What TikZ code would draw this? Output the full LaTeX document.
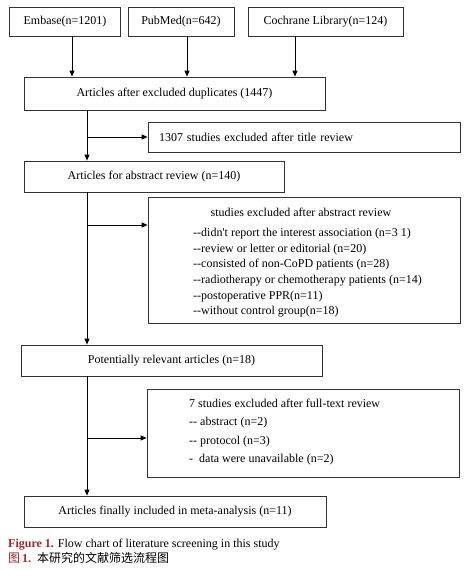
\documentclass[tikz,border=0pt]{standalone}
\usepackage{fontspec}
\setmainfont{Liberation Serif}
\newfontfamily\cjk{Noto Sans CJK SC}
\usetikzlibrary{arrows.meta}
\definecolor{capred}{RGB}{150,40,40}
\definecolor{boxline}{RGB}{50,50,50}
\newcommand\dd{-{}-}
\begin{document}
\begin{tikzpicture}[x=1pt,y=-1pt,
  box/.style={draw=boxline,line width=0.8pt,rectangle,inner sep=0pt,
    font=\fontsize{12}{14}\selectfont},
  txt/.style={anchor=base west,inner sep=0pt,font=\fontsize{12}{14}\selectfont},
  arr/.style={draw=black,line width=0.8pt,-{Triangle[length=6pt,width=5pt]}},
  ln/.style={draw=black,line width=0.8pt}]
\useasboundingbox (0,0) rectangle (468,570);
% source boxes
\node[box,minimum width=111pt,minimum height=29pt] (emb) at (65,21.5) {Embase(n=1201)};
\node[box,minimum width=106pt,minimum height=29pt] (pub) at (181,21.5) {PubMed(n=642)};
\node[box,minimum width=155pt,minimum height=29pt] (coch) at (325.5,21.5) {Cochrane Library(n=124)};
% main boxes
\node[box,minimum width=301pt,minimum height=33pt] (dup) at (174.5,93.5) {Articles after excluded duplicates (1447)};
\node[box,minimum width=312pt,minimum height=30pt,text width=290pt,align=left,inner xsep=11pt] (tit) at (304,137) {1307 studies excluded after title review};
\node[box,minimum width=260pt,minimum height=31pt] (abs) at (154,176.5) {Articles for abstract review (n=140)};
\node[box,minimum width=312pt,minimum height=126pt] (absex) at (304,260) {};
\node[box,minimum width=301pt,minimum height=31pt] (pot) at (171.5,360.5) {Potentially relevant articles (n=18)};
\node[box,minimum width=312pt,minimum height=88pt] (full) at (303,433) {};
\node[box,minimum width=302pt,minimum height=31pt] (fin) at (175,511.5) {Articles finally included in meta-analysis (n=11)};
% text in abstract exclusion box
\node[txt,anchor=base] (a0) at (301,216) {studies excluded after abstract review};
\node[txt] (a1) at (193,236) {\dd didn\textquotesingle t report the interest association (n=3 1)};
\node[txt] (a2) at (193,252) {\dd review or letter or editorial (n=20)};
\node[txt] (a3) at (193,267.7) {\dd consisted of non-CoPD patients (n=28)};
\node[txt] (a4) at (193,283.4) {\dd radiotherapy or chemotherapy patients (n=14)};
\node[txt] (a5) at (193,299.1) {\dd postoperative PPR(n=11)};
\node[txt] (a6) at (193,314.8) {\dd without control group(n=18)};
% text in full-text exclusion box
\node[txt] (f0) at (189,407) {7 studies excluded after full-text review};
\node[txt] (f1) at (189,425.5) {\dd\ abstract (n=2)};
\node[txt] (f2) at (189,444) {\dd\ protocol (n=3)};
\node[txt] (f3) at (189,462.5) {-\ \ data were unavailable (n=2)};
% columns
\coordinate (c1) at (72,0);
\coordinate (c2) at (187,0);
\coordinate (c3) at (295,0);
\coordinate (t) at (87,0);
\coordinate (b1) at (87,137);
\coordinate (b2) at (87,225);
\coordinate (b3) at (87,438);
% connectors
\draw[arr] (emb.south -| c1) -- (dup.north -| c1);
\draw[arr] (pub.south -| c2) -- (dup.north -| c2);
\draw[arr] (coch.south -| c3) -- (dup.north -| c3);
\draw[arr] (dup.south -| t) -- (abs.north -| t);
\draw[arr] (b1) -- (tit.west |- b1);
\draw[arr] (abs.south -| t) -- (pot.north -| t);
\draw[arr] (b2) -- (absex.west |- b2);
\draw[arr] (pot.south -| t) -- (fin.north -| t);
\draw[arr] (b3) -- (full.west |- b3);
% caption
\node[txt] (cap1) at (8,547) {{\color{capred}\bfseries Figure 1.} Flow chart of literature screening in this study};
\node[txt] (cap2) at (8,562) {{\color{capred}{\cjk 图}\,\bfseries 1.}\ \ {\cjk 本研究的文献筛选流程图}};
\end{tikzpicture}
\end{document}
